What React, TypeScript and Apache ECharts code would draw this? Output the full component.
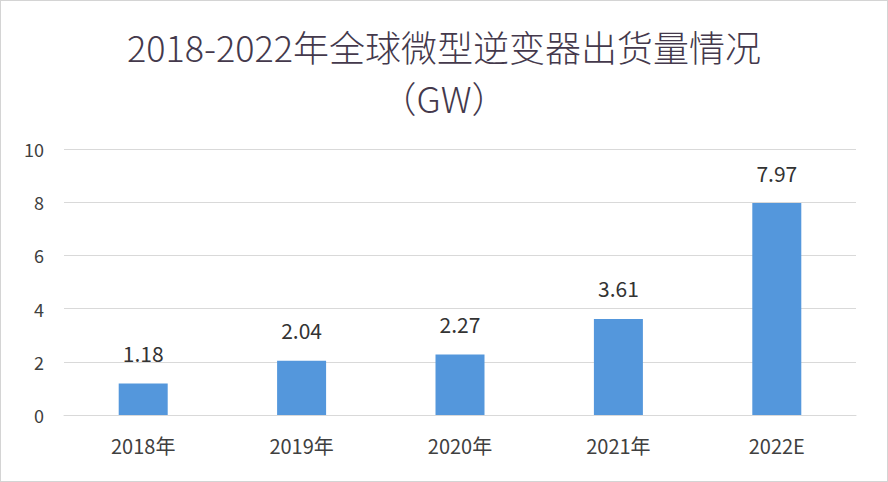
import { useEffect, useRef } from "react";
import * as echarts from "echarts";

const categories = ["2018年", "2019年", "2020年", "2021年", "2022E"];
const shipments = [1.18, 2.04, 2.27, 3.61, 7.97];
const yTicks = { min: 0, max: 10, interval: 2 };
const titleLines = ["2018-2022年全球微型逆变器出货量情况", "（GW）"];

const FONT = "'Noto Sans CJK SC', 'Noto Sans', sans-serif";

export default function App() {
  const elRef = useRef<HTMLDivElement>(null);

  useEffect(() => {
    document.body.style.margin = "0";
    if (!elRef.current) return;
    const chart = echarts.init(elRef.current, undefined, { renderer: "svg" });
    chart.setOption({
      animation: false,
      backgroundColor: "#fff",
      title: {
        text: titleLines.join("\n"),
        left: "center",
        top: 14,
        textStyle: {
          fontFamily: FONT,
          fontSize: 36,
          fontWeight: 300,
          color: "#44394c",
          lineHeight: 51,
        },
      },
      grid: { left: 63, right: 31, top: 148, bottom: 66 },
      xAxis: {
        type: "category",
        data: categories,
        axisTick: { show: false },
        axisLine: { lineStyle: { color: "#d9d9d9" } },
        axisLabel: { color: "#404040", fontSize: 20, fontFamily: FONT, margin: 20 },
      },
      yAxis: {
        type: "value",
        ...yTicks,
        axisLine: { show: false },
        axisTick: { show: false },
        splitLine: { lineStyle: { color: "#d9d9d9" } },
        axisLabel: { color: "#404040", fontSize: 18, fontFamily: FONT, margin: 20 },
      },
      series: [
        {
          type: "bar",
          data: shipments,
          barWidth: 49,
          itemStyle: { color: "#5497dc" },
          label: {
            show: true,
            position: "top",
            distance: 20,
            color: "#333",
            fontSize: 21,
            fontFamily: FONT,
            formatter: (p: any) => p.value.toFixed(2),
          },
        },
      ],
    });
    return () => chart.dispose();
  }, []);

  return (
    <div
      ref={elRef}
      style={{ width: 888, height: 482, boxSizing: "border-box", border: "1px solid #d4d4d4" }}
    />
  );
}
